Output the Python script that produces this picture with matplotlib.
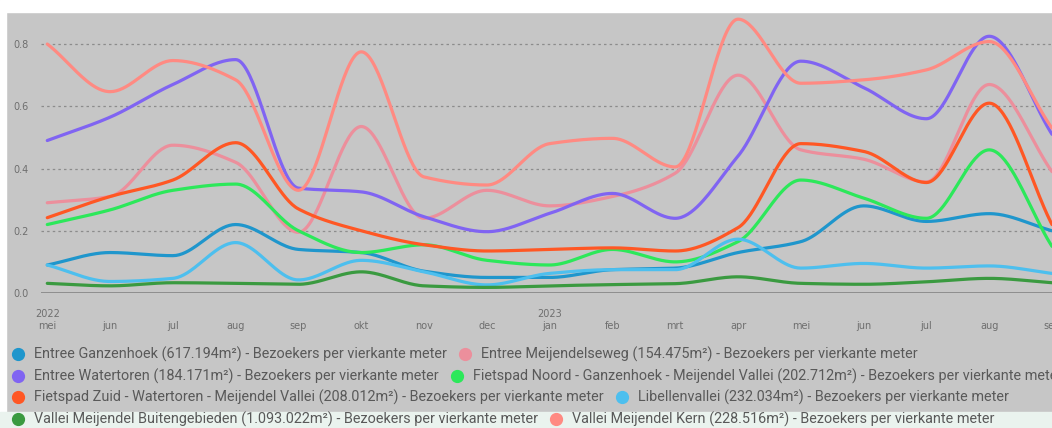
import numpy as np
import matplotlib.pyplot as plt
from matplotlib.patches import Rectangle
from matplotlib.lines import Line2D

# maanden mei 2022 .. sep 2023
maanden = ['mei', 'jun', 'jul', 'aug', 'sep', 'okt', 'nov', 'dec',
           'jan', 'feb', 'mrt', 'apr', 'mei', 'jun', 'jul', 'aug', 'sep']
jaren = {0: '2022', 8: '2023'}

ganzenhoek = [0.09, 0.13, 0.12, 0.22, 0.14, 0.13, 0.07, 0.05, 0.05, 0.075, 0.08, 0.13, 0.165, 0.28, 0.23, 0.255, 0.20]
meijendelseweg = [0.29, 0.31, 0.475, 0.42, 0.195, 0.535, 0.24, 0.33, 0.28, 0.31, 0.385, 0.70, 0.46, 0.43, 0.357, 0.67, 0.39]
watertoren = [0.49, 0.565, 0.67, 0.75, 0.337, 0.325, 0.245, 0.197, 0.256, 0.32, 0.24, 0.44, 0.745, 0.66, 0.56, 0.825, 0.51]
fietspad_noord = [0.22, 0.267, 0.33, 0.35, 0.20, 0.13, 0.155, 0.105, 0.09, 0.14, 0.10, 0.165, 0.363, 0.305, 0.24, 0.46, 0.15]
fietspad_zuid = [0.242, 0.31, 0.363, 0.483, 0.27, 0.20, 0.155, 0.135, 0.14, 0.145, 0.135, 0.21, 0.48, 0.455, 0.355, 0.61, 0.22]
libellenvallei = [0.09, 0.037, 0.047, 0.162, 0.042, 0.105, 0.068, 0.026, 0.063, 0.075, 0.075, 0.173, 0.08, 0.095, 0.08, 0.087, 0.063]
buitengebieden = [0.031, 0.023, 0.033, 0.031, 0.028, 0.068, 0.023, 0.018, 0.023, 0.027, 0.03, 0.052, 0.031, 0.028, 0.036, 0.047, 0.033]
kern = [0.80, 0.647, 0.747, 0.685, 0.33, 0.775, 0.373, 0.347, 0.48, 0.497, 0.405, 0.88, 0.674, 0.685, 0.717, 0.808, 0.53]

series = [
    ('Entree Ganzenhoek (617.194m²) - Bezoekers per vierkante meter', ganzenhoek, '#1f96cc'),
    ('Entree Meijendelseweg (154.475m²) - Bezoekers per vierkante meter', meijendelseweg, '#ec8f9c'),
    ('Entree Watertoren (184.171m²) - Bezoekers per vierkante meter', watertoren, '#8064f2'),
    ('Fietspad Noord - Ganzenhoek - Meijendel Vallei (202.712m²) - Bezoekers per vierkante meter', fietspad_noord, '#2ce85a'),
    ('Fietspad Zuid - Watertoren - Meijendel Vallei (208.012m²) - Bezoekers per vierkante meter', fietspad_zuid, '#ff5724'),
    ('Libellenvallei (232.034m²) - Bezoekers per vierkante meter', libellenvallei, '#4dbfee'),
    ('Vallei Meijendel Buitengebieden (1.093.022m²) - Bezoekers per vierkante meter', buitengebieden, '#3a9a40'),
    ('Vallei Meijendel Kern (228.516m²) - Bezoekers per vierkante meter', kern, '#ff8a82'),
]


# monotone kubische interpolatie (zoals "smooth" lijnen in de dashboard)
def monotone(x, y, n=40):
    x = np.asarray(x, float)
    y = np.asarray(y, float)
    h = np.diff(x)
    d = np.diff(y) / h
    m = np.zeros_like(y)
    m[0], m[-1] = d[0], d[-1]
    for i in range(1, len(y) - 1):
        if d[i - 1] * d[i] <= 0:
            m[i] = 0
        else:
            w1 = 2 * h[i] + h[i - 1]
            w2 = h[i] + 2 * h[i - 1]
            m[i] = (w1 + w2) / (w1 / d[i - 1] + w2 / d[i])
    xs, ys = [], []
    for i in range(len(h)):
        t = np.linspace(0, 1, n, endpoint=False)
        h00 = 2 * t**3 - 3 * t**2 + 1
        h10 = t**3 - 2 * t**2 + t
        h01 = -2 * t**3 + 3 * t**2
        h11 = t**3 - t**2
        xs.append(x[i] + t * h[i])
        ys.append(h00 * y[i] + h10 * h[i] * m[i] + h01 * y[i + 1] + h11 * h[i] * m[i + 1])
    xs.append([x[-1]])
    ys.append([y[-1]])
    return np.concatenate(xs), np.concatenate(ys)


W, H = 1052, 428
fig = plt.figure(figsize=(W / 100, H / 100), dpi=100)
fig.patch.set_facecolor('#c6c6c6')
# witte strook boven/links en lichte strook onder (screenshot)
fig.patches.append(Rectangle((0, 1 - 12 / H), 1, 12 / H, transform=fig.transFigure, color='white', zorder=0))
fig.patches.append(Rectangle((0, 0), 6 / W, 1, transform=fig.transFigure, color='white', zorder=0))
fig.patches.append(Rectangle((0, 0), 1, 16 / H, transform=fig.transFigure, color='#eaf3ee', zorder=0))

ax = fig.add_axes([41 / W, (H - 293) / H, 1 - 41 / W, 281 / H])
ax.set_facecolor('none')

x = np.arange(len(maanden))
for naam, vals, kleur in series:
    xs, ys = monotone(x, vals)
    ax.plot(xs, ys, color=kleur, lw=2.3, solid_capstyle='round', zorder=3)

ax.set_xlim(-0.1, 16.0)
ax.set_ylim(0, 0.903)
ax.set_yticks([0.0, 0.2, 0.4, 0.6, 0.8])
ax.set_yticklabels(['0.0', '0.2', '0.4', '0.6', '0.8'])
for v in [0.2, 0.4, 0.6, 0.8]:
    ax.axhline(v, color='#8c8c8c', lw=0.9, ls=(0, (2, 2.5)), zorder=1)
ax.axhline(0, color='#8a8a8a', lw=1.3, zorder=2)
for s in ax.spines.values():
    s.set_visible(False)

ax.set_xticks(x)
ax.set_xticklabels(maanden)
ax.tick_params(axis='x', length=0, pad=20.5, labelsize=7, labelcolor='#6e6e6e')
ax.tick_params(axis='y', length=0, pad=9, labelsize=7, labelcolor='#6e6e6e')
for i, jaar in jaren.items():
    ax.text(i, -21 / 281 * 0.903, jaar, ha='center', va='center', fontsize=7,
            color='#6e6e6e', clip_on=False)

# legenda, rijen zoals in het origineel
rijen = [[0, 1], [2, 3], [4, 5], [6, 7]]
rij_y = [354, 376, 397, 419]
fs = 10.35
renderer = fig.canvas.get_renderer()
for rij, yp in zip(rijen, rij_y):
    xp = 18
    for idx in rij:
        naam, vals, kleur = series[idx]
        fig.add_artist(Line2D([xp / W], [1 - yp / H], marker='o', markersize=8.5, color=kleur,
                              transform=fig.transFigure, ls='none'))
        t = fig.text((xp + 16) / W, 1 - yp / H, naam, fontsize=fs, color='#595959',
                     family='Roboto', va='center', ha='left')
        bb = t.get_window_extent(renderer)
        xp = bb.x1 + 18

fig.savefig('out.png', dpi=100, facecolor=fig.get_facecolor())
